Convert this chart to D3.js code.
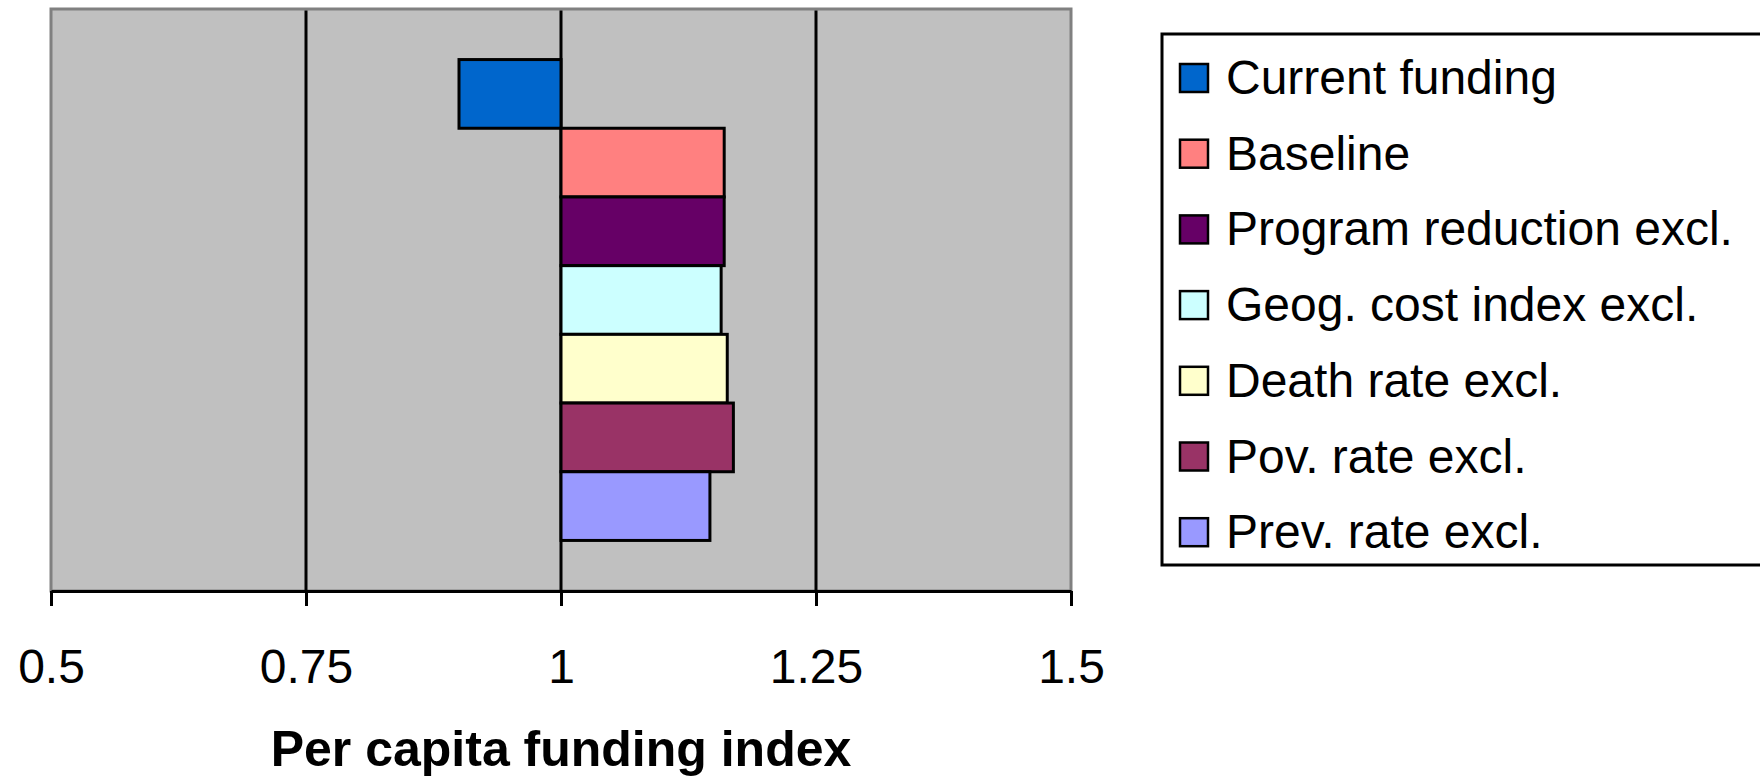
<!DOCTYPE html>
<html>
<head>
<meta charset="utf-8">
<script src="https://cdn.jsdelivr.net/npm/d3@7"></script>
<style>
  html, body { margin: 0; padding: 0; background: #ffffff; }
  svg { display: block; }
  text { font-family: "Liberation Sans", Arial, sans-serif; fill: #000; }
</style>
</head>
<body>
<svg id="chart" width="1760" height="777"></svg>
<script>
// Series shown as horizontal bars measured from an index of 1
const seriesNames = [
  "Current funding",
  "Baseline",
  "Program reduction excl.",
  "Geog. cost index excl.",
  "Death rate excl.",
  "Pov. rate excl.",
  "Prev. rate excl."
];
const seriesValues = [0.90, 1.16, 1.16, 1.157, 1.163, 1.169, 1.146];
const seriesColors = ["#0066CC", "#FF8080", "#660066", "#CCFFFF", "#FFFFCC", "#993366", "#9999FF"];
const tickValues = [0.5, 0.75, 1, 1.25, 1.5];
const tickLabels = ["0.5", "0.75", "1", "1.25", "1.5"];
const axisTitle = "Per capita funding index";
const baseValue = 1;

const svg = d3.select("#chart");

const plot = { left: 51, right: 1071, top: 9, bottom: 591 };

const x = d3.scaleLinear().domain([0.5, 1.5]).range([plot.left, plot.right]);
const y = d3.scaleBand().domain(seriesNames)
  .range([plot.top, plot.bottom])
  .paddingInner(0)
  .paddingOuter(0.736);

// Plot area background with grey frame
svg.append("rect")
  .attr("x", plot.left)
  .attr("y", plot.top)
  .attr("width", plot.right - plot.left)
  .attr("height", plot.bottom - plot.top)
  .attr("fill", "#C0C0C0")
  .attr("stroke", "#808080")
  .attr("stroke-width", 3);

// Vertical gridlines at interior ticks
svg.append("g")
  .selectAll("line")
  .data(tickValues.filter(v => v > 0.5 && v < 1.5))
  .join("line")
  .attr("x1", d => x(d))
  .attr("x2", d => x(d))
  .attr("y1", plot.top + 1.5)
  .attr("y2", plot.bottom)
  .attr("stroke", "#000")
  .attr("stroke-width", 3);

// Bars from the base value of 1
svg.append("g")
  .selectAll("rect")
  .data(seriesNames.map((n, i) => ({ name: n, value: seriesValues[i], color: seriesColors[i] })))
  .join("rect")
  .attr("x", d => Math.min(x(baseValue), x(d.value)))
  .attr("y", d => y(d.name))
  .attr("width", d => Math.abs(x(d.value) - x(baseValue)))
  .attr("height", y.bandwidth())
  .attr("fill", d => d.color)
  .attr("stroke", "#000")
  .attr("stroke-width", 3);

// Bottom value axis
const xAxis = d3.axisBottom(x)
  .tickValues(tickValues)
  .tickFormat((d, i) => tickLabels[i])
  .tickSize(15)
  .tickPadding(0)
  .tickSizeOuter(0);

const axisG = svg.append("g")
  .attr("transform", `translate(0,${plot.bottom})`)
  .call(xAxis);

axisG.select(".domain")
  .attr("stroke", "#000")
  .attr("stroke-width", 3);
axisG.selectAll(".tick line")
  .attr("stroke", "#000")
  .attr("stroke-width", 3);
axisG.selectAll(".tick text")
  .attr("y", 92)
  .attr("dy", null)
  .attr("fill", "#000")
  .style("font-family", "'Liberation Sans', Arial, sans-serif")
  .style("font-size", "48px");

// Axis title
svg.append("text")
  .attr("x", (plot.left + plot.right) / 2)
  .attr("y", 766)
  .attr("text-anchor", "middle")
  .style("font-size", "50px")
  .style("font-weight", "bold")
  .text(axisTitle);

// Legend
const legend = { left: 1162, top: 34, bottom: 565, rowStart: 94, rowStep: 75.7 };

svg.append("rect")
  .attr("x", legend.left)
  .attr("y", legend.top)
  .attr("width", 1770 - legend.left)
  .attr("height", legend.bottom - legend.top)
  .attr("fill", "#fff")
  .attr("stroke", "#000")
  .attr("stroke-width", 3);

const rows = svg.append("g")
  .selectAll("g")
  .data(seriesNames.map((n, i) => ({ name: n, color: seriesColors[i], i })))
  .join("g")
  .attr("transform", d => `translate(0,${legend.rowStart + d.i * legend.rowStep})`);

rows.append("rect")
  .attr("x", 1180)
  .attr("y", -30)
  .attr("width", 28)
  .attr("height", 28)
  .attr("fill", d => d.color)
  .attr("stroke", "#000")
  .attr("stroke-width", 2.5);

rows.append("text")
  .attr("x", 1226)
  .attr("y", 0)
  .style("font-size", "48px")
  .text(d => d.name);
</script>
</body>
</html>
